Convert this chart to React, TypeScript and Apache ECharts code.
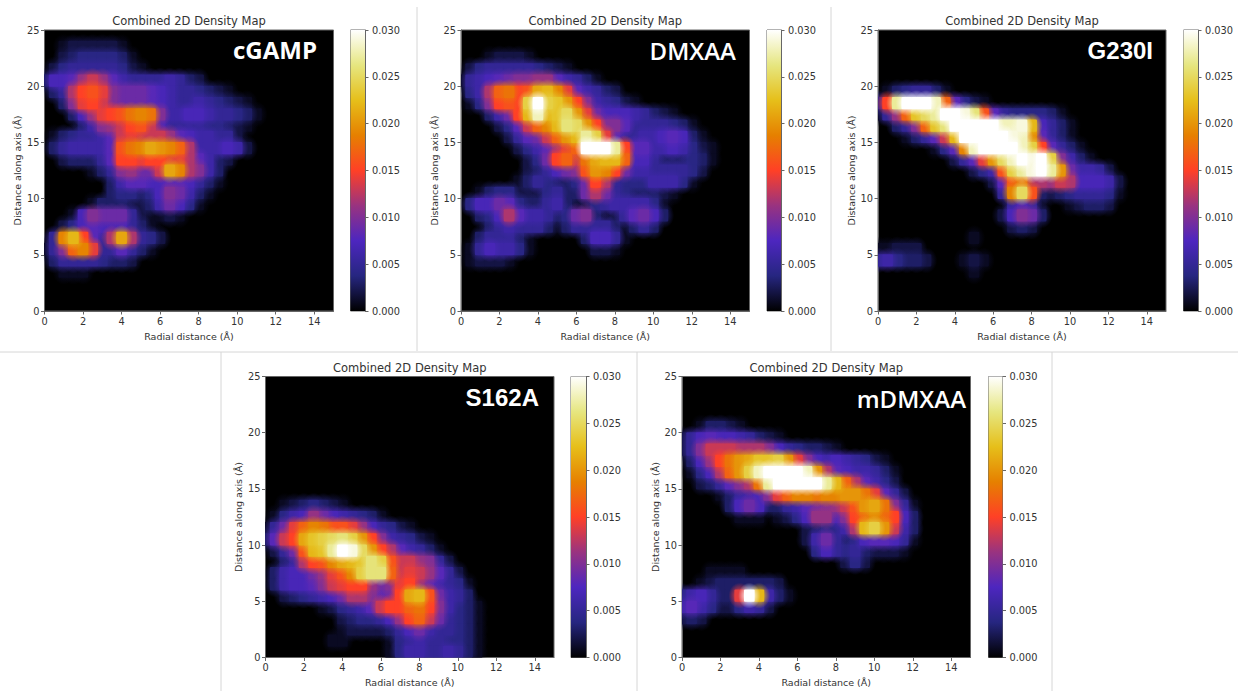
import React, { useEffect, useRef } from "react";
import * as echarts from "echarts";

// Density, in units of 0.001. Each list holds the rows from y=24..25 Å down to y=0..1 Å;
// each row holds the samples from x=0 in 0.5 Å steps (samples past the row's end are 0).
const cgampRows = [
  [],
  [0,0,1,2,2,2,2,2,1],
  [0,0,2,3,4,4,4,4,3,1],
  [0,2,4,5,5,5,5,5,4,2,1],
  [3,7,7,8,11,13,11,8,6,5,5,5,5,6,5,3,2],
  [0,3,5,12,15,16,14,10,9,9,9,8,7,6,5,5,4,3,2,1],
  [0,0,3,10,14,15,13,10,9,9,9,8,7,6,5,5,6,5,4,3,2,1],
  [0,0,0,3,7,11,14,15,16,18,19,18,10,6,6,7,7,6,5,5,4,3,1],
  [0,0,0,0,3,6,10,11,13,15,16,13,7,5,5,5,5,4,4,3,2,1],
  [0,1,3,4,5,5,6,8,13,14,13,13,13,11,8,7,6,6,5,5,2],
  [0,3,5,6,6,6,6,8,16,18,19,21,20,19,17,12,6,6,6,7,6,2],
  [0,0,2,3,3,3,5,8,15,15,14,15,15,14,14,12,8,6,3,2],
  [0,0,0,0,0,1,3,5,10,11,9,9,13,21,19,12,10,6,3],
  [0,0,0,0,0,0,0,3,6,8,8,7,7,8,8,7,5,3,1],
  [0,0,0,0,0,0,0,3,4,4,3,4,7,10,9,6,3,1],
  [0,0,0,0,0,1,3,3,3,2,2,3,6,9,7,4,1],
  [0,0,0,1,7,10,9,9,9,5,2,1,1,2,1],
  [0,0,2,4,7,8,7,7,7,5,3,1],
  [0,5,19,22,15,8,5,12,21,12,5,4,2],
  [1,5,10,17,19,14,5,5,8,5,3,1],
  [0,3,5,5,5,5,4,3,3,2],
  [0,0,1,1,1],
  [],
  [],
  [],
];
const dmxaaRows = [
  [],
  [],
  [0,0,0,1,2,2,2,1],
  [0,2,4,5,5,5,5,5,4,3,2,1],
  [1,5,6,7,8,9,10,10,11,11,8,6,5,3,1],
  [0,4,6,12,17,18,15,16,21,22,19,14,8,6,5,3,2],
  [0,1,4,10,15,16,15,24,30,24,23,20,15,10,6,5,4,2,1],
  [0,0,0,3,6,9,15,22,28,22,23,25,20,14,9,7,7,7,6,5,3,2,1],
  [0,0,0,0,2,4,8,13,17,19,22,26,25,20,15,10,10,8,5,5,5,5,4,3,1],
  [0,0,0,0,0,2,5,8,9,13,17,20,22,27,24,14,8,5,5,6,6,7,8,7,3,1],
  [0,0,0,0,0,0,2,4,6,8,11,14,17,30,30,30,27,15,8,8,6,6,7,6,4,2,1],
  [0,0,0,0,0,0,0,2,4,9,15,17,13,18,21,22,22,17,7,7,5,3,3,3,4,3,1],
  [0,0,0,0,0,0,0,2,3,5,7,9,10,16,20,19,15,9,6,6,5,5,5,5,4,2],
  [0,0,0,0,0,0,1,3,5,4,3,3,4,9,15,12,5,4,4,4,6,6,6,4,1],
  [0,0,1,3,4,4,2,2,2,4,5,3,3,9,12,9,5,4,3,3,3,2,1],
  [0,4,7,7,9,8,4,3,3,5,6,3,1,2,4,5,6,6,6,6,4,1],
  [0,0,3,4,7,12,8,6,6,5,3,4,9,10,3,1,2,5,8,9,7,3],
  [0,0,0,3,5,6,5,5,5,3,1,3,5,5,5,5,3,1,3,5,3],
  [0,0,3,5,5,5,3,1,0,0,0,0,0,3,7,7,5,1],
  [0,1,5,7,6,6,4,1,0,0,0,0,0,0,2,2,1],
  [0,1,2,2,2,1],
  [],
  [],
  [],
  [],
];
const g230iRows = [
  [],
  [],
  [],
  [],
  [],
  [0,1,3,4,5,5,3,1],
  [5,15,27,30,30,30,28,17,8,4,2,1],
  [1,5,11,17,23,25,27,30,30,29,26,16,8,5,4,4,4,4,3,1],
  [0,0,3,5,10,17,23,26,30,30,30,30,30,28,28,29,22,7,5,3,1],
  [0,0,0,1,3,5,8,13,22,30,30,30,30,30,29,28,19,8,5,3,1],
  [0,0,0,0,0,0,1,4,8,19,28,30,30,30,30,28,24,15,8,5,3,1],
  [0,0,0,0,0,0,0,0,2,5,8,14,20,25,28,30,29,30,24,10,6,3,1],
  [0,0,0,0,0,0,0,0,0,0,2,4,6,16,24,27,29,30,27,20,9,6,6,5,2],
  [0,0,0,0,0,0,0,0,0,0,0,0,2,8,16,18,12,12,11,13,12,7,7,7,6,2],
  [0,0,0,0,0,0,0,0,0,0,0,0,0,5,19,25,16,3,2,3,4,5,5,5,4,1],
  [0,0,0,0,0,0,0,0,0,0,0,0,0,0,5,7,5,1,0,0,1,2,3,3,2],
  [0,0,0,0,0,0,0,0,0,0,0,0,0,2,7,10,9,3],
  [0,0,0,0,0,0,0,0,0,0,0,0,0,0,2,3,2],
  [0,0,0,0,0,0,0,0,0,0,1],
  [1,1,2,2,2],
  [5,6,4,3,3,2,0,0,0,1,2,1],
  [0,0,0,0,0,0,0,0,0,0,1],
  [],
  [],
  [],
];
const s162aRows = [
  [],
  [],
  [],
  [],
  [],
  [],
  [],
  [],
  [],
  [],
  [],
  [0,0,1,2,3,4,3,2,1],
  [0,1,4,6,7,11,9,7,6,5,4,3,1],
  [1,5,9,14,17,19,18,16,16,14,11,7,5,4,2,1],
  [3,8,13,15,21,23,24,25,26,24,20,15,10,6,5,4,2,1],
  [0,2,5,9,16,22,23,27,30,29,25,20,15,12,8,6,5,3,1],
  [0,0,3,5,12,15,16,19,21,22,23,26,24,16,13,13,11,10,5,2],
  [0,3,6,7,7,9,11,14,16,19,24,26,26,17,13,14,13,11,8,5,2],
  [0,3,6,7,7,8,10,13,14,15,15,11,9,10,14,15,11,8,6,5,4,1],
  [0,0,2,3,4,5,6,7,9,12,12,10,8,9,15,21,22,16,9,6,5,3],
  [0,0,0,0,0,0,1,2,4,5,6,8,13,15,15,17,18,15,10,6,4,3,1],
  [0,0,0,0,0,0,0,0,2,3,4,4,5,7,11,15,17,13,9,5,4,3,1],
  [0,0,0,0,0,0,0,0,1,2,2,2,2,3,5,7,9,6,5,5,4,3,1],
  [0,0,0,0,0,0,0,1,1,0,0,0,0,1,4,5,6,5,5,4,4,3,1],
  [0,0,0,0,0,0,0,0,0,0,0,0,0,1,4,6,6,5,5,6,5,3,1],
];
const mdmxaaRows = [
  [],
  [],
  [],
  [],
  [0,0,1,3,3,2,1],
  [2,5,7,8,7,7,6,5,3,2,1],
  [2,5,10,13,13,13,12,12,12,10,7,5,4,3,3,2,1],
  [0,3,7,11,15,18,20,21,23,23,24,20,14,10,7,6,7,6,5,4,2,1],
  [0,1,4,7,12,17,20,24,28,30,30,30,30,28,20,12,8,7,6,6,5,3,1],
  [0,0,2,3,5,8,10,12,18,27,30,30,30,30,30,27,22,17,12,8,6,4,2],
  [0,0,0,0,1,3,5,6,7,10,14,17,19,19,18,19,19,20,20,18,14,8,5,2],
  [0,0,0,0,0,3,7,9,7,3,3,5,6,8,9,10,11,13,16,20,21,18,10,5,1],
  [0,0,0,0,0,0,1,1,1,0,1,2,4,7,11,11,7,10,15,17,19,17,15,7,3],
  [0,0,0,0,0,0,0,0,0,0,0,0,0,2,3,4,4,6,12,22,24,20,13,6,3],
  [0,0,0,0,0,0,0,0,0,0,0,0,0,2,6,9,5,3,4,7,8,8,7,5,1],
  [0,0,0,0,0,0,0,0,0,0,0,0,0,0,4,7,5,4,5,3,2,2,2,1],
  [0,0,0,0,0,0,0,0,0,0,0,0,0,0,0,0,0,2,4,2],
  [0,0,0,1,1,1,1],
  [0,0,1,2,3,3,3,3,3,3,2],
  [4,6,7,5,3,3,14,30,22,6,3,1],
  [6,8,6,4,2,2,4,6,5,2],
  [2,3,2],
  [],
  [],
  [],
];

const panelNames = ["cGAMP", "DMXAA", "G230I", "S162A", "mDMXAA"];
const panelRows = [cgampRows, dmxaaRows, g230iRows, s162aRows, mdmxaaRows];
const xTicks = [0, 2, 4, 6, 8, 10, 12, 14];
const yTicks = [0, 5, 10, 15, 20, 25];
const colorbarTop = [0.03];
const cmrMap = [
  "#000000", "#262680", "#4D26BF", "#993380", "#FF4026",
  "#E68000", "#E6BF1A", "#E6E680", "#FFFFFF",
];
const chartTitle = "Combined 2D Density Map";
const xName = "Radial distance (Å)";
const yName = "Distance along axis (Å)";

// Layout: plot box, colour bar box and sample label anchor of each panel, in page pixels.
const layout = [
  { l: 44.5, r: 333.5, t: 30, b: 311, cl: 350.5, cr: 365, lx: 317, ly: 49, font: "'Open Sans'", w: 700 },
  { l: 461, r: 749.5, t: 30, b: 311, cl: 767, cr: 781, lx: 736, ly: 50, font: "'Open Sans'", w: 600 },
  { l: 878, r: 1166, t: 30, b: 311, cl: 1183.5, cr: 1198, lx: 1153, ly: 50, font: "'Liberation Sans'", w: 700 },
  { l: 265.5, r: 554, t: 376.5, b: 657.5, cl: 571, cr: 586, lx: 539, ly: 397, font: "'Liberation Sans'", w: 700 },
  { l: 682, r: 970.5, t: 376.5, b: 657.5, cl: 988.5, cr: 1002.5, lx: 966, ly: 398, font: "'Open Sans'", w: 600 },
];
const separators = [
  [417, 7, 417, 351], [831, 7, 831, 351], [0, 352, 1238, 352],
  [221, 352, 221, 691], [637, 352, 637, 691], [1052, 352, 1052, 691],
];

const FONT = "'DejaVu Sans'";
const INK = "#333333";
const SPINE = "#666666";

function cellsOf(rows: number[][]) {
  const out: number[][] = [];
  rows.forEach((row, i) => {
    row.forEach((v, k) => {
      if (v > 0) out.push([k * 0.5, 24 - i + 0.5, v / 1000]);
    });
  });
  return out.sort((a, b) => a[2] - b[2]);
}

// Each sample is a cell with a soft halo round it, painted low values first.
function renderCell(params: any, api: any) {
  const x = api.value(0);
  const y = api.value(1);
  const h0 = api.coord([x - 0.58, y + 1.15]);
  const h1 = api.coord([x + 0.58, y - 1.15]);
  const c0 = api.coord([x - 0.25, y + 0.5]);
  const c1 = api.coord([x + 0.25, y - 0.5]);
  const color = api.visual("color");
  const fill = new echarts.graphic.RadialGradient(0.5, 0.5, 0.5, [
    { offset: 0, color },
    { offset: 0.28, color },
    { offset: 0.6, color: echarts.color.modifyAlpha(color, 0.5) },
    { offset: 1, color: echarts.color.modifyAlpha(color, 0) },
  ]);
  return {
    type: "group",
    children: [
      {
        type: "rect",
        shape: { x: h0[0], y: h0[1], width: h1[0] - h0[0], height: h1[1] - h0[1] },
        style: { fill },
      },
      {
        type: "rect",
        shape: { x: c0[0] - 0.5, y: c0[1] - 0.5, width: c1[0] - c0[0] + 1, height: c1[1] - c0[1] + 1, r: 1 },
        style: { fill: color },
      },
    ],
  };
}

function buildOption() {
  const grid: any[] = [];
  const xAxis: any[] = [];
  const yAxis: any[] = [];
  const series: any[] = [];
  const title: any[] = [];
  const graphic: any[] = [];

  const tickLabel = { fontFamily: FONT, fontSize: 9.8, color: INK, margin: 5 };
  const tickLine = { show: true, length: 3.5, lineStyle: { color: SPINE, width: 1 } };
  const spine = { show: true, onZero: false, lineStyle: { color: SPINE, width: 1 } };
  const nameText = { fontFamily: FONT, fontSize: 9.5, color: INK };

  layout.forEach((p, i) => {
    const plotIdx = grid.length;
    grid.push({
      left: p.l, top: p.t, width: p.r - p.l, height: p.b - p.t,
      show: true, backgroundColor: "#000000", borderColor: SPINE, borderWidth: 1,
    });
    xAxis.push({
      type: "value", gridIndex: plotIdx, min: 0, max: 15, name: xName,
      nameLocation: "middle", nameGap: 20, nameTextStyle: nameText,
      axisLine: spine, splitLine: { show: false },
      axisTick: { ...tickLine, customValues: xTicks },
      axisLabel: { ...tickLabel, customValues: xTicks },
    });
    yAxis.push({
      type: "value", gridIndex: plotIdx, min: 0, max: 25, name: yName,
      nameLocation: "middle", nameGap: 22, nameRotate: 90, nameTextStyle: nameText,
      axisLine: spine, splitLine: { show: false },
      axisTick: { ...tickLine, customValues: yTicks },
      axisLabel: { ...tickLabel, customValues: yTicks },
    });
    series.push({
      type: "custom", name: panelNames[i], xAxisIndex: plotIdx, yAxisIndex: plotIdx,
      coordinateSystem: "cartesian2d", clip: true, renderItem: renderCell,
      encode: { x: 0, y: 1 }, data: cellsOf(panelRows[i]), silent: true,
    });

    const barIdx = grid.length;
    grid.push({
      left: p.cl, top: p.t, width: p.cr - p.cl, height: p.b - p.t,
      show: true, backgroundColor: "transparent", borderColor: SPINE, borderWidth: 1,
    });
    xAxis.push({
      type: "category", gridIndex: barIdx, data: [""], show: false,
    });
    yAxis.push({
      type: "value", gridIndex: barIdx, position: "right", min: 0, max: 0.03, interval: 0.005,
      splitLine: { show: false },
      axisLine: { show: true, lineStyle: { color: SPINE, width: 1 } },
      axisTick: tickLine,
      axisLabel: { ...tickLabel, margin: 7, formatter: (v: number) => v.toFixed(3) },
    });
    series.push({
      type: "bar", xAxisIndex: barIdx, yAxisIndex: barIdx, barWidth: "100%", silent: true,
      data: colorbarTop,
      itemStyle: {
        color: new echarts.graphic.LinearGradient(
          0, 1, 0, 0,
          cmrMap.map((c, k) => ({ offset: k / (cmrMap.length - 1), color: c })),
        ),
      },
    });

    title.push({
      text: chartTitle, left: (p.l + p.r) / 2, top: p.t - 15, textAlign: "center",
      padding: 0,
      textStyle: { fontFamily: FONT, fontSize: 11.5, fontWeight: "normal", color: INK },
    });
    graphic.push({
      type: "text", x: p.lx, y: p.ly, z: 100,
      style: {
        text: panelNames[i], fill: "#ffffff", fontFamily: p.font, fontSize: 24,
        fontWeight: p.w, align: "right", verticalAlign: "middle",
      },
    });
  });

  separators.forEach((s) => {
    graphic.push({
      type: "line", z: 100,
      shape: { x1: s[0], y1: s[1], x2: s[2], y2: s[3] },
      style: { stroke: "#d6d6d6", lineWidth: 1 },
    });
  });

  return {
    animation: false,
    backgroundColor: "#ffffff",
    title, grid, xAxis, yAxis, series, graphic,
    visualMap: {
      type: "continuous", show: false, min: 0, max: 0.03, dimension: 2,
      seriesIndex: [0, 2, 4, 6, 8],
      inRange: { color: cmrMap },
    },
  };
}

export default function App() {
  const ref = useRef<HTMLDivElement>(null);
  useEffect(() => {
    document.body.style.margin = "0";
    const chart = echarts.init(ref.current!, undefined, { renderer: "svg" });
    chart.setOption(buildOption() as any);
    return () => chart.dispose();
  }, []);
  return <div ref={ref} style={{ width: 1238, height: 691 }} />;
}
